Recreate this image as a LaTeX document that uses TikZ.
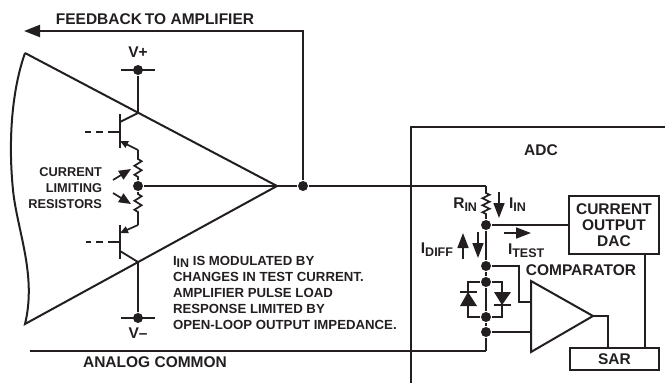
\documentclass[tikz,border=0pt]{standalone}
\usepackage{fontspec}
\setmainfont{Liberation Sans}
\usetikzlibrary{arrows.meta,decorations.pathmorphing}
\definecolor{ink}{HTML}{231F20}
\newcommand{\subs}[1]{\raisebox{-0.35ex}{\fontsize{12.5}{13}\selectfont #1}}
\begin{document}
\begin{tikzpicture}[
      x=1pt, y=-1pt,
      every path/.style={draw=ink, line width=2pt, line join=miter},
      every node/.style={text=ink, font=\fontsize{15.5}{16}\selectfont\bfseries, inner sep=0pt},
      dot/.style={circle, fill=ink, draw=none, minimum size=10pt},
      thin wire/.style={line width=1.8pt},
      base dash/.style={line width=1.8pt, dash pattern=on 12pt off 5pt on 7pt off 5pt},
      zig/.style={line width=1.7pt, decorate, decoration={zigzag, segment length=9pt, amplitude=3.6pt, pre length=2pt, post length=2pt}},
      big arrow/.style={line width=1.7pt, -{Triangle[length=15pt, width=11pt]}},
      emit arrow/.style={line width=1.7pt, -{Triangle[length=8pt, width=7pt]}}
    ]

    \useasboundingbox[draw=none] (0,0) rectangle (665,383);

    % amplifier
    \coordinate (amptop) at (25,53);
    \coordinate (amptip) at (277,186);
    \coordinate (ampbot) at (25,324);
    \draw (amptop) -- (amptip) -- (ampbot)
      .. controls (37,275) and (17,230) .. (13,190)
      .. controls (8,140) and (12,90) .. (amptop);

    % feedback and output
    \node[dot] (outdot) at (303,186) {};
    \coordinate (fbcorner) at (303,31);
    \coordinate (fbend) at (24,31);
    \node (fblabel) at (155,19) {FEEDBACK\kern3pt TO AMPLIFIER};
    \draw[-{Triangle[length=16pt, width=12pt]}] (outdot) -- (fbcorner) -- (fbend);
    \coordinate (rintop) at (486,186);
    \draw (amptip) -- (outdot) -- (rintop);

    % upper transistor
    \node[dot] (vpdot) at (138,70) {};
    \coordinate (vpl) at (121,70);
    \coordinate (vpr) at (155,70);
    \node (vplabel) at (138,52) {V+};
    \draw[thin wire] (vpl) -- (vpr);
    \coordinate (q1c) at (138,113);
    \coordinate (q1e) at (138,150);
    \coordinate (q1bart) at (120,114);
    \coordinate (q1barb) at (120,148);
    \coordinate (q1bc) at (120,122);
    \coordinate (q1be) at (120,141);
    \coordinate (q1base) at (120,132);
    \coordinate (q1dash) at (85,132);
    \draw[thin wire] (vpdot) -- (q1c) -- (q1bc);
    \draw[thin wire] (q1bart) -- (q1barb);
    \draw[base dash] (q1base) -- (q1dash);
    \draw[emit arrow] (q1e) -- (q1be);

    % lower transistor
    \node[dot] (vmdot) at (138,318) {};
    \coordinate (vml) at (121,318);
    \coordinate (vmr) at (155,318);
    \node (vmlabel) at (138,333) {V–};
    \draw[thin wire] (vml) -- (vmr);
    \coordinate (q2c) at (138,262);
    \coordinate (q2e) at (138,225);
    \coordinate (q2bart) at (120,225);
    \coordinate (q2barb) at (120,259);
    \coordinate (q2bc) at (120,251);
    \coordinate (q2be) at (120,233);
    \coordinate (q2base) at (120,242);
    \coordinate (q2dash) at (86,242);
    \draw[thin wire] (vmdot) -- (q2c) -- (q2bc);
    \draw[thin wire] (q2bart) -- (q2barb);
    \draw[base dash] (q2base) -- (q2dash);
    \draw[emit arrow] (q2e) -- (q2be);

    % current limiting resistors
    \node[dot] (middot) at (138,186) {};
    \coordinate (r1top) at (138,157);
    \coordinate (r2bot) at (138,215);
    \draw[thin wire] (q1e) -- (r1top);
    \draw[thin wire] (q2e) -- (r2bot);
    \draw[zig] (r1top) -- (middot);
    \draw[zig] (middot) -- (r2bot);
    \draw[thin wire] (middot) -- (amptip);
    \node[align=right, anchor=east, font=\fontsize{12.8}{16}\selectfont\bfseries] (limlabel) at (103,188) {CURRENT\\LIMITING\\RESISTORS};
    \coordinate (la1) at (113,180);
    \coordinate (la2) at (131,169);
    \coordinate (lb1) at (113,193);
    \coordinate (lb2) at (131,204);
    \draw[line width=1.7pt, -{Triangle[length=12pt, width=10pt]}] (la1) -- (la2);
    \draw[line width=1.7pt, -{Triangle[length=12pt, width=10pt]}] (lb1) -- (lb2);

    % note and common
    \node[align=left, anchor=west, font=\fontsize{13.2}{16}\selectfont\bfseries] (note) at (172,293) {I\subs{IN} IS MODULATED BY\\CHANGES IN TEST CURRENT.\\AMPLIFIER PULSE LOAD\\RESPONSE LIMITED BY\\OPEN-LOOP OUTPUT IMPEDANCE.};
    \coordinate (comleft) at (30,351);
    \coordinate (combot) at (486,351);
    \node (comlabel) at (155,362) {ANALOG COMMON};
    \draw[thin wire] (comleft) -- (combot);

    % adc
    \coordinate (adcbot) at (411,383);
    \coordinate (adccorner) at (411,127);
    \coordinate (adcright) at (665,127);
    \node (adclabel) at (541,150) {ADC};
    \draw[thin wire] (adcbot) -- (adccorner) -- (adcright);

    \node[dot] (d1) at (486,225) {};
    \node[dot] (d2) at (486,266) {};
    \node[dot] (d3) at (486,282) {};
    \node[dot] (d4) at (486,317) {};
    \node[dot] (d5) at (486,332) {};
    \coordinate (rina) at (486,192);
    \coordinate (rinb) at (486,217);
    \draw[thin wire] (rintop) -- (rina);
    \draw[zig, decoration={zigzag, segment length=7pt, amplitude=3.6pt, pre length=1pt, post length=1pt}] (rina) -- (rinb);
    \draw (rinb) -- (d1) -- (d2) -- (d3) -- (d4) -- (d5) -- (combot);
    \node[anchor=east] (rinlabel) at (478,205) {R\subs{IN}};
    \node[anchor=west] (iinlabel) at (508,205) {I\subs{IN}};
    \node[anchor=east] (idifflabel) at (454,250) {I\subs{DIFF}};
    \node[anchor=west] (itestlabel) at (507,251) {I\subs{TEST}};
    \coordinate (ia1) at (499,192);
    \coordinate (ia2) at (499,218);
    \coordinate (ib1) at (463,259);
    \coordinate (ib2) at (463,233);
    \coordinate (ic1) at (478,232);
    \coordinate (ic2) at (478,258);
    \coordinate (id1) at (504,233);
    \coordinate (id2) at (531,233);
    \draw[big arrow] (ia1) -- (ia2);
    \draw[big arrow] (ib1) -- (ib2);
    \draw[big arrow] (ic1) -- (ic2);
    \draw[big arrow] (id1) -- (id2);

    % diodes
    \coordinate (dtl) at (468,282);
    \coordinate (dtr) at (502,282);
    \coordinate (dbl) at (468,317);
    \coordinate (dbr) at (502,317);
    \draw[thin wire] (d3) -- (dtl) -- (dbl) -- (d4) -- (dbr) -- (dtr) -- (d3);
    \coordinate (t1a) at (460,306);
    \coordinate (t1b) at (477,306);
    \coordinate (t1c) at (468,292);
    \coordinate (t1d) at (460,292);
    \coordinate (t1e) at (477,292);
    \fill[ink, draw=none] (t1a) -- (t1b) -- (t1c) -- cycle;
    \draw[thin wire] (t1d) -- (t1e);
    \coordinate (t2a) at (494,292);
    \coordinate (t2b) at (511,292);
    \coordinate (t2c) at (502,305);
    \coordinate (t2d) at (494,305);
    \coordinate (t2e) at (511,305);
    \fill[ink, draw=none] (t2a) -- (t2b) -- (t2c) -- cycle;
    \draw[thin wire] (t2d) -- (t2e);

    % comparator, dac, sar
    \coordinate (cmpa) at (531,281);
    \coordinate (cmpb) at (593,316);
    \coordinate (cmpc) at (531,352);
    \draw (cmpa) -- (cmpb) -- (cmpc) -- cycle;
    \node (cmplabel) at (581,270) {COMPARATOR};
    \coordinate (cmpin1) at (531,302);
    \coordinate (cmpin2) at (531,332);
    \coordinate (k1) at (519,266);
    \coordinate (k2) at (519,302);
    \draw[thin wire] (d2) -- (k1) -- (k2) -- (cmpin1);
    \draw[thin wire] (d5) -- (cmpin2);
    \node[draw=ink, line width=2pt, minimum width=90pt, minimum height=58pt, align=center, anchor=north west] (dac) at (568,195) {CURRENT\\OUTPUT\\DAC};
    \node[draw=ink, line width=2pt, minimum width=89pt, minimum height=22pt, anchor=north west] (sar) at (569,347) {SAR};
    \draw[thin wire] (d1) -- (dac.west |- d1);
    \coordinate (k3) at (608,316);
    \draw[thin wire] (cmpb) -- (k3) -- (k3 |- sar.north);
    \coordinate (k4) at (645,253);
    \draw[thin wire] (k4) -- (k4 |- sar.north);

    \end{tikzpicture}
\end{document}
